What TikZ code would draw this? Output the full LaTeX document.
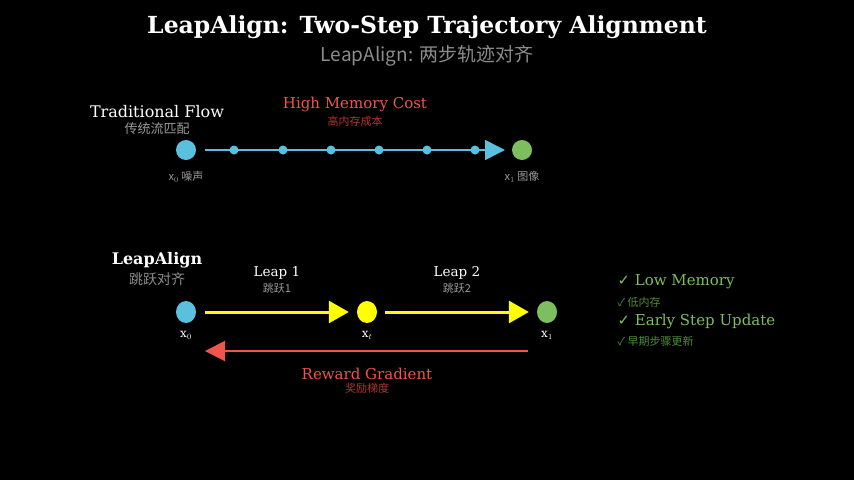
\documentclass[tikz,border=0pt]{standalone}
\usepackage{fontspec}
\setmainfont{DejaVu Serif}
\newfontfamily\cjk{Noto Sans CJK SC}
\newfontfamily\chk{DejaVu Sans}
\usetikzlibrary{arrows.meta, positioning, shapes.geometric}
\definecolor{flowblue}{HTML}{5BC0DE}
\definecolor{imggreen}{HTML}{7DBE5E}
\definecolor{leapyellow}{HTML}{FFFF00}
\definecolor{gradred}{HTML}{F0554A}
\definecolor{darkred}{HTML}{B0362E}
\definecolor{darkgreen}{HTML}{4E8A3A}
\tikzset{%
	state/.style={
		circle,
		minimum size=20pt,
		inner sep=0pt
	},
	leap state/.style={
		ellipse,
		minimum width=20pt,
		minimum height=22pt,
		inner sep=0pt
	},
	step dot/.style={
		circle,
		fill=flowblue,
		minimum size=9pt,
		inner sep=0pt
	},
	gray note/.style={
		text=gray!80,
		font=\cjk\fontsize{11}{12}\selectfont
	},
	leap/.style={
		line width=3pt,
		shorten >=8pt,
		-{Triangle[length=20pt,width=22pt]}
	},
}

\begin{document}
\begin{tikzpicture}[x=1pt,y=-1pt]
			% background
			\fill[black] (0,0) rectangle (854,480);
			\useasboundingbox (0,0) rectangle (854,480);
			
			% titles
			\node[text=white, font=\bfseries\fontsize{23.5}{26}\selectfont] (title) at (427,27) {LeapAlign: Two-Step Trajectory Alignment};
			\node[text=gray!90, font=\cjk\fontsize{19}{22}\selectfont] (subtitle) at (427,56) {LeapAlign: 两步轨迹对齐};
			
			% traditional flow
			\node[text=white, font=\fontsize{16}{18}\selectfont] (tradlabel) at (157,112) {Traditional Flow};
			\node[gray note, font=\cjk\fontsize{13}{15}\selectfont] (tradsub) at (157,129) {传统流匹配};
			\node[state, fill=flowblue] (noise) at (186,150) {};
			\node[state, fill=imggreen] (image) at (522,150) {};
			\coordinate (flowstart) at (205,150);
			\coordinate (flowend) at (505,150);
			\draw[flowblue, line width=1.5pt, -{Triangle[length=20pt,width=20pt]}] (flowstart) -- (flowend);
			\foreach \x [count=\i] in {234,283,331,379,427,475} {
				\node[step dot] (dot\i) at (\x,150) {};
			}
			\node[gray note] (noiselabel) at (186,177) {x$_0$ 噪声};
			\node[gray note] (imagelabel) at (522,177) {x$_1$ 图像};
			\node[text=gradred, font=\fontsize{15}{17}\selectfont] (memcost) at (355,104) {High Memory Cost};
			\node[text=darkred, font=\cjk\fontsize{11}{12}\selectfont] (memsub) at (355,121) {高内存成本};
			
			% LeapAlign
			\node[text=white, font=\bfseries\fontsize{16}{18}\selectfont] (leaplabel) at (157,260) {LeapAlign};
			\node[gray note, text=gray!90, font=\cjk\fontsize{14}{16}\selectfont] (leapsub) at (157,279) {跳跃对齐};
			\node[leap state, fill=flowblue] (start) at (186,312) {};
			\node[leap state, fill=leapyellow] (mid) at (367,312) {};
			\node[leap state, fill=imggreen] (final) at (547,312) {};
			\draw[leapyellow, leap] (start.east) ++(9,0) -- (mid.west);
			\draw[leapyellow, leap] (mid.east) ++(8,0) -- (final.west);
			\node[text=white, font=\fontsize{12}{14}\selectfont] (xzero) at (186,335) {x$_0$};
			\node[text=white, font=\fontsize{12}{14}\selectfont] (xt) at (367,335) {x$_t$};
			\node[text=white, font=\fontsize{12}{14}\selectfont] (xone) at (547,335) {x$_1$};
			\node[text=white, font=\fontsize{13.5}{15}\selectfont] (leapone) at (277,273) {Leap 1};
			\node[gray note] (leaponesub) at (277,288) {跳跃1};
			\node[text=white, font=\fontsize{13.5}{15}\selectfont] (leaptwo) at (457,273) {Leap 2};
			\node[gray note] (leaptwosub) at (457,288) {跳跃2};
			
			% gradient
			\coordinate (gradstart) at (528,351);
			\coordinate (gradend) at (205,351);
			\draw[gradred, line width=2pt, -{Triangle[length=20pt,width=20pt]}] (gradstart) -- (gradend);
			\node[text=gradred, font=\fontsize{15}{17}\selectfont] (gradlabel) at (367,374) {Reward Gradient};
			\node[text=darkred, font=\cjk\fontsize{11}{12}\selectfont] (gradsub) at (367,388) {奖励梯度};
			
			% benefits
			\node[anchor=west, text=imggreen, font=\fontsize{15}{17}\selectfont] (lowmem) at (614,282) {{\chk ✓} Low Memory};
			\node[anchor=west, text=darkgreen, font=\cjk\fontsize{11}{12}\selectfont] (lowmemsub) at (614,302) {✓ 低内存};
			\node[anchor=west, text=imggreen, font=\fontsize{15}{17}\selectfont] (early) at (614,321) {{\chk ✓} Early Step Update};
			\node[anchor=west, text=darkgreen, font=\cjk\fontsize{11}{12}\selectfont] (earlysub) at (614,341) {✓ 早期步骤更新};
		\end{tikzpicture}
\end{document}
